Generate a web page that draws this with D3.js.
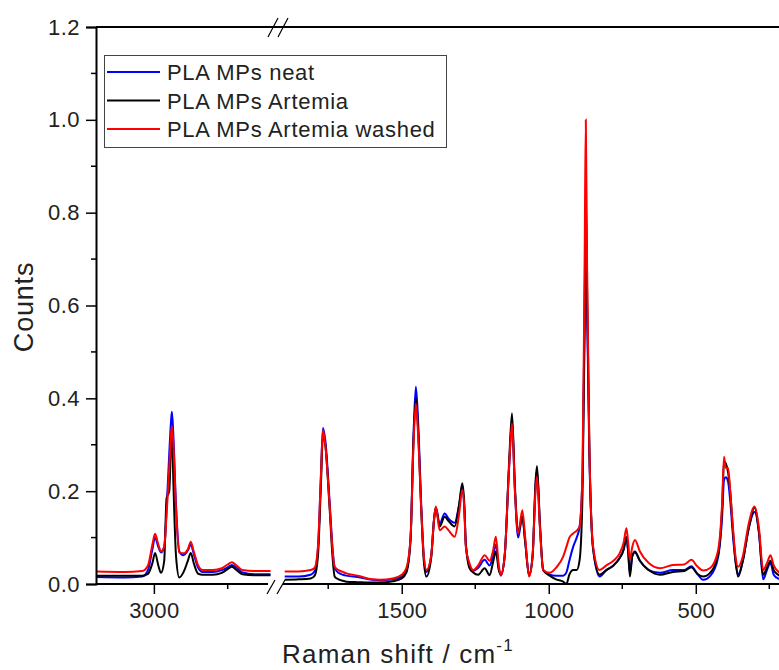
<!DOCTYPE html>
<html>
<head>
<meta charset="utf-8">
<script src="https://cdn.jsdelivr.net/npm/d3@7"></script>
<style>
  body { margin: 0; background: #fff; }
  text { font-family: Arial, "Liberation Sans", sans-serif; fill: #222; }
</style>
</head>
<body>
<div id="chart"></div>
<script>
// wavenumbers (cm-1), high-frequency window (left of the break)
const wnHigh = [3200, 3100, 3040, 3020, 3005, 2996, 2985, 2976, 2965, 2957, 2948, 2942, 2939, 2934, 2925,
  2914, 2900, 2885, 2875, 2865, 2850, 2835, 2800, 2770, 2750, 2736, 2720, 2700, 2660, 2605];
const neatHigh = [0.015, 0.014, 0.016, 0.030, 0.075, 0.100, 0.080, 0.068, 0.080, 0.160, 0.280, 0.350, 0.371, 0.320, 0.170,
  0.070, 0.062, 0.072, 0.085, 0.065, 0.035, 0.026, 0.026, 0.030, 0.036, 0.041, 0.035, 0.025, 0.021, 0.021];
const artemiaHigh = [0.018, 0.018, 0.018, 0.022, 0.045, 0.067, 0.040, 0.024, 0.050, 0.185, 0.200, 0.300, 0.335, 0.220, 0.060,
  0.014, 0.025, 0.050, 0.067, 0.045, 0.022, 0.020, 0.020, 0.024, 0.032, 0.037, 0.030, 0.021, 0.019, 0.019];
const washedHigh = [0.027, 0.026, 0.028, 0.040, 0.085, 0.108, 0.085, 0.070, 0.080, 0.150, 0.250, 0.320, 0.340, 0.300, 0.160,
  0.068, 0.066, 0.075, 0.091, 0.070, 0.040, 0.030, 0.030, 0.034, 0.042, 0.047, 0.040, 0.030, 0.028, 0.028];

// fingerprint window (right of the break)
const wnLow = [1898, 1850, 1810, 1796, 1785, 1775, 1768, 1760, 1745, 1735, 1728, 1715, 1700, 1688, 1650, 1600, 1575, 1530,
  1500, 1484, 1470, 1460, 1452, 1445, 1433, 1425, 1416, 1400, 1390, 1384, 1371, 1354, 1340, 1320, 1305, 1294, 1287, 1282,
  1270, 1257, 1240, 1218, 1201, 1190, 1180, 1170, 1163, 1150, 1135, 1125, 1115, 1104, 1090, 1080, 1067, 1055, 1045, 1040,
  1030, 1019, 997, 975, 951, 940, 930, 917, 905, 895, 885, 878, 874, 870, 862, 849, 827, 804, 780, 760, 745, 736, 730, 724,
  716, 707, 690, 660, 622, 578, 540, 515, 495, 475, 450, 425, 410, 404, 398, 390, 383, 373, 365, 356, 340, 320, 300, 285,
  271, 258, 246, 235, 220, 200];
const neatLow = [0.016, 0.016, 0.020, 0.028, 0.075, 0.230, 0.336, 0.310, 0.175, 0.075, 0.035, 0.024, 0.020, 0.018, 0.015, 0.009, 0.008, 0.010,
  0.016, 0.030, 0.100, 0.320, 0.425, 0.360, 0.160, 0.060, 0.026, 0.060, 0.140, 0.165, 0.130, 0.152, 0.140, 0.132, 0.170, 0.210, 0.160, 0.085,
  0.042, 0.028, 0.035, 0.052, 0.040, 0.060, 0.085, 0.035, 0.018, 0.060, 0.250, 0.352, 0.200, 0.100, 0.145, 0.090, 0.020, 0.060, 0.210, 0.245,
  0.125, 0.030, 0.020, 0.018, 0.018, 0.025, 0.050, 0.080, 0.100, 0.124, 0.240, 0.600, 0.828, 0.600, 0.280, 0.075, 0.016, 0.030, 0.040, 0.055, 0.075, 0.100, 0.070, 0.025,
  0.060, 0.068, 0.050, 0.030, 0.024, 0.030, 0.030, 0.038, 0.022, 0.009, 0.018, 0.055, 0.150, 0.224, 0.230, 0.220, 0.180, 0.100, 0.050, 0.020, 0.050, 0.120, 0.155, 0.110,
  0.010, 0.030, 0.045, 0.020, 0.012, 0.010];
const artemiaLow = [0.009, 0.010, 0.012, 0.018, 0.060, 0.210, 0.320, 0.300, 0.160, 0.055, 0.016, 0.010, 0.007, 0.005, 0.004, 0.003, 0.003, 0.006,
  0.012, 0.025, 0.095, 0.310, 0.400, 0.340, 0.150, 0.050, 0.016, 0.055, 0.140, 0.165, 0.124, 0.145, 0.135, 0.124, 0.170, 0.217, 0.170, 0.085,
  0.035, 0.025, 0.020, 0.034, 0.019, 0.045, 0.070, 0.030, 0.020, 0.060, 0.260, 0.368, 0.210, 0.110, 0.145, 0.090, 0.018, 0.060, 0.220, 0.254,
  0.130, 0.030, 0.018, 0.010, 0.005, 0.000, 0.020, 0.030, 0.030, 0.052, 0.200, 0.550, 0.843, 0.650, 0.300, 0.075, 0.020, 0.030, 0.040, 0.055, 0.075, 0.102, 0.070, 0.016,
  0.060, 0.070, 0.050, 0.030, 0.020, 0.026, 0.028, 0.036, 0.022, 0.016, 0.025, 0.060, 0.170, 0.264, 0.260, 0.240, 0.200, 0.110, 0.050, 0.016, 0.050, 0.120, 0.165, 0.110,
  0.020, 0.035, 0.050, 0.030, 0.020, 0.015];
const washedLow = [0.027, 0.027, 0.030, 0.035, 0.080, 0.230, 0.332, 0.300, 0.167, 0.070, 0.037, 0.030, 0.026, 0.023, 0.018, 0.010, 0.009, 0.012,
  0.020, 0.035, 0.100, 0.300, 0.389, 0.330, 0.153, 0.060, 0.030, 0.060, 0.140, 0.167, 0.116, 0.124, 0.115, 0.102, 0.150, 0.203, 0.160, 0.080,
  0.045, 0.030, 0.040, 0.062, 0.050, 0.070, 0.102, 0.040, 0.019, 0.060, 0.250, 0.346, 0.200, 0.109, 0.159, 0.100, 0.016, 0.060, 0.200, 0.231,
  0.120, 0.030, 0.024, 0.035, 0.059, 0.080, 0.100, 0.109, 0.115, 0.124, 0.250, 0.700, 1.000, 0.700, 0.300, 0.080, 0.030, 0.040, 0.050, 0.065, 0.090, 0.120, 0.090, 0.052,
  0.080, 0.095, 0.070, 0.045, 0.034, 0.041, 0.042, 0.052, 0.038, 0.029, 0.035, 0.070, 0.180, 0.274, 0.250, 0.250, 0.200, 0.116, 0.060, 0.037, 0.060, 0.130, 0.167, 0.120,
  0.030, 0.045, 0.062, 0.040, 0.027, 0.020];

const seriesNames = ["PLA MPs neat", "PLA MPs Artemia", "PLA MPs Artemia washed"];
const seriesColors = ["#0000ff", "#000000", "#ff0000"];
const yTicks = [0, 0.2, 0.4, 0.6, 0.8, 1.0, 1.2];
const xTicksHigh = [3000];
const xTicksLow = [1500, 1000, 500];

const W = 779, H = 670;
const plotTop = 27, plotBottom = 584, plotLeft = 96;

const svg = d3.select("#chart").append("svg")
  .attr("width", W).attr("height", H);

svg.append("defs").append("clipPath").attr("id", "clip")
  .append("rect").attr("x", plotLeft).attr("y", plotTop)
  .attr("width", W - plotLeft).attr("height", plotBottom - plotTop + 2);

const y = d3.scaleLinear().domain([0, 1.2]).range([plotBottom, plotTop]);
// two x windows separated by an axis break
const xHigh = d3.scaleLinear().domain([3196, 2600]).range([plotLeft, 272]);
const xLow = d3.scaleLinear().domain([1897, 200]).range([285, 784]);

const highData = [neatHigh, artemiaHigh, washedHigh];
const lowData = [neatLow, artemiaLow, washedLow];

const g = svg.append("g").attr("clip-path", "url(#clip)");

[0, 1, 2].forEach(i => {
  const lineHigh = d3.line()
    .x((d, j) => xHigh(wnHigh[j]))
    .y(d => y(d))
    .curve(d3.curveMonotoneX);
  const lineLow = d3.line()
    .x((d, j) => xLow(wnLow[j]))
    .y(d => y(d))
    .curve(d3.curveMonotoneX);
  g.append("path")
    .attr("fill", "none")
    .attr("stroke", seriesColors[i])
    .attr("stroke-width", 2)
    .attr("d", lineHigh(highData[i]));
  g.append("path")
    .attr("fill", "none")
    .attr("stroke", seriesColors[i])
    .attr("stroke-width", 2)
    .attr("d", lineLow(lowData[i]));
});

// y axis
const yAxis = d3.axisLeft(y).tickValues(yTicks).tickFormat(d3.format(".1f")).tickSize(10).tickPadding(6);
const ya = svg.append("g").attr("transform", `translate(${plotLeft},0)`).call(yAxis);
ya.selectAll("text").style("font-size", "22px").style("letter-spacing", "0.5px");
ya.append("g").selectAll("line")
  .data(d3.range(0.1, 1.2, 0.2))
  .enter().append("line")
  .attr("x1", -5).attr("x2", 0)
  .attr("y1", d => y(d)).attr("y2", d => y(d))
  .attr("stroke", "#000").attr("stroke-width", 1.5);

// bottom axis, drawn as two pieces
function bottomAxis(scale, ticks, minor, x0, x1) {
  const ax = d3.axisBottom(scale).tickValues(ticks).tickFormat(d3.format("d")).tickSize(10).tickPadding(8);
  const a = svg.append("g").attr("transform", `translate(0,${plotBottom})`).call(ax);
  a.select(".domain").remove();
  a.selectAll("text").style("font-size", "22px").style("letter-spacing", "0.3px");
  a.append("line").attr("x1", x0).attr("x2", x1).attr("y1", 0).attr("y2", 0)
    .attr("stroke", "#000").attr("stroke-width", 2);
  a.selectAll(".minor").data(minor).enter().append("line")
    .attr("x1", d => scale(d)).attr("x2", d => scale(d))
    .attr("y1", 0).attr("y2", 5).attr("stroke", "#000").attr("stroke-width", 1.5);
}
bottomAxis(xHigh, xTicksHigh, [2750], plotLeft, 268);
bottomAxis(xLow, xTicksLow, [1750, 1250, 750, 250], 283, W);
svg.selectAll(".tick line").attr("stroke", "#000").attr("stroke-width", 1.5);
ya.select(".domain").attr("stroke-width", 2);

// top frame line
svg.append("line").attr("x1", plotLeft).attr("x2", W)
  .attr("y1", plotTop).attr("y2", plotTop).attr("stroke", "#000").attr("stroke-width", 2);

// break marks
[0, 10].forEach(dx => {
  svg.append("line").attr("x1", 267 + dx).attr("y1", plotBottom + 10)
    .attr("x2", 275 + dx).attr("y2", plotBottom - 4).attr("stroke", "#000").attr("stroke-width", 1.2);
  svg.append("line").attr("x1", 268 + dx).attr("y1", plotTop + 10)
    .attr("x2", 278 + dx).attr("y2", plotTop - 9).attr("stroke", "#000").attr("stroke-width", 1.2);
});

// axis titles
svg.append("text").attr("x", 398).attr("y", 663).attr("text-anchor", "middle")
  .style("font-size", "26px").style("letter-spacing", "1.2px")
  .text("Raman shift / cm")
  .append("tspan").attr("dy", -12).style("font-size", "17px").text("-1");
svg.append("text").attr("transform", "translate(33,307) rotate(-90)").attr("text-anchor", "middle")
  .style("font-size", "27px").style("letter-spacing", "0.8px").text("Counts");

// legend
const lg = svg.append("g");
lg.append("rect").attr("x", 104.5).attr("y", 55.5).attr("width", 342).attr("height", 92)
  .attr("fill", "#fff").attr("stroke", "#444").attr("stroke-width", 1);
seriesNames.forEach((name, i) => {
  const yy = 72 + i * 28.5;
  lg.append("line").attr("x1", 107).attr("x2", 160).attr("y1", yy).attr("y2", yy)
    .attr("stroke", seriesColors[i]).attr("stroke-width", 2);
  lg.append("text").attr("x", 167).attr("y", yy + 8).style("font-size", "22px")
    .style("letter-spacing", "0.7px").text(name);
});
</script>
</body>
</html>
